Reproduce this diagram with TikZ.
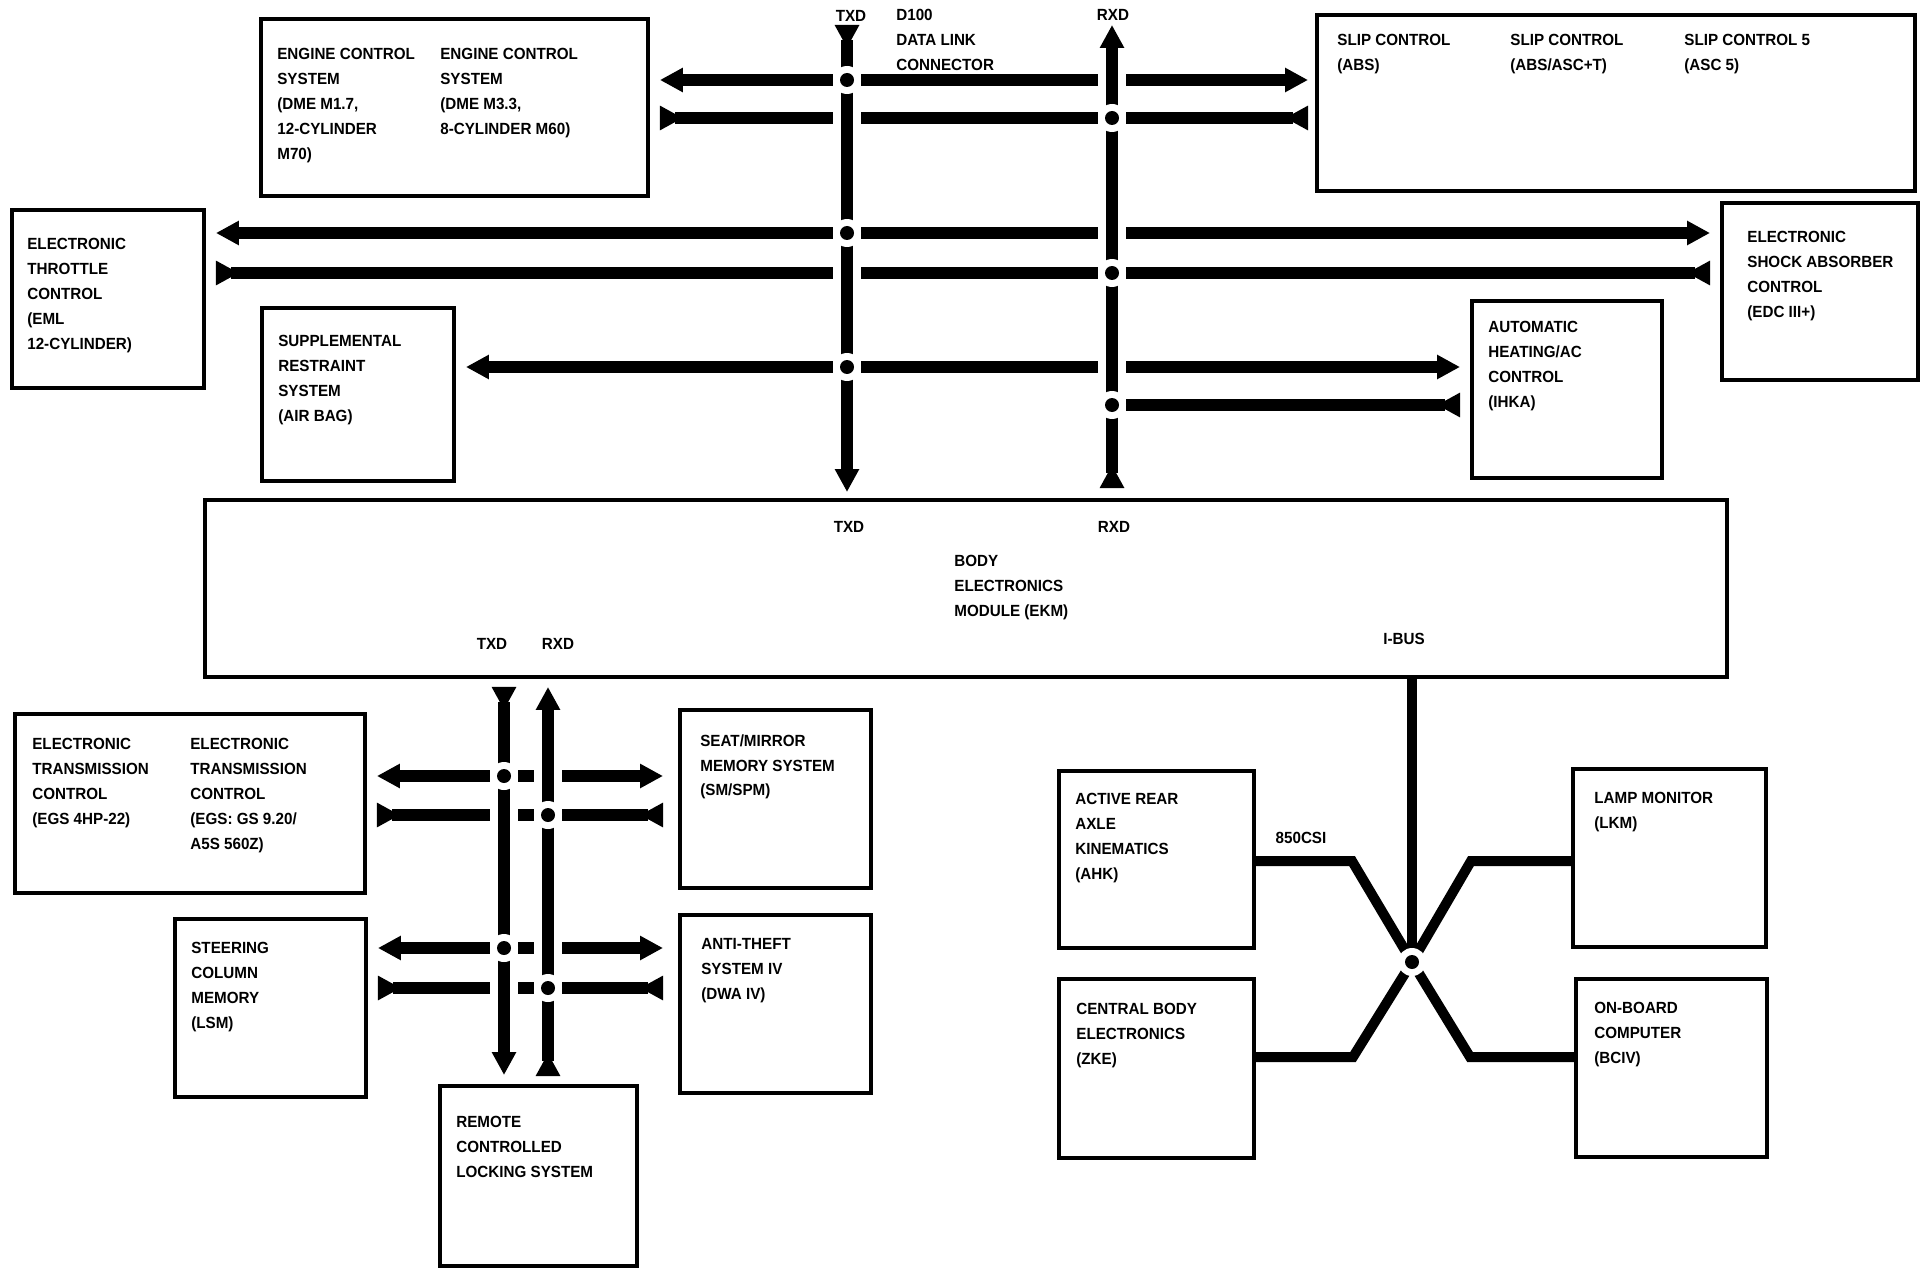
\documentclass[tikz,border=0pt]{standalone}
\usepackage{fontspec}
\newfontfamily\diagfont[FakeStretch=0.94]{Liberation Sans}
\usetikzlibrary{arrows.meta,calc}

\tikzset{
  modbox/.style={draw, rectangle, line width=0.08cm, anchor=north west, inner sep=0pt},
  lbl/.style={font=\diagfont\bfseries\fontsize{9.2}{14.2}\selectfont, inner sep=0pt, align=left, anchor=north west},
  tag/.style={font=\diagfont\bfseries\fontsize{9.2}{14.2}\selectfont, inner sep=0pt},
  bus/.style={line width=0.24cm},
  tx/.style={bus, -{Triangle[length=0.46cm,width=0.46cm]}, shorten >=0.2cm},
  rx/.style={bus, {Triangle[reversed,length=0.46cm,width=0.46cm]}-, shorten <=0.2cm},
  trunk/.style={bus, {Triangle[reversed,length=0.46cm,width=0.46cm]}-{Triangle[length=0.46cm,width=0.46cm]},
    preaction={draw=white, line width=0.56cm}},
  ibus/.style={line width=0.2cm},
}

\begin{document}
\begin{tikzpicture}[x=0.02cm, y=-0.02cm]
    \useasboundingbox (0,0) rectangle (1922,1280);

    % Control units on the diagnosis link
    \node[modbox, minimum width=7.74cm, minimum height=3.54cm] (engine) at (259,17) {};
    \node[modbox, minimum width=11.96cm, minimum height=3.52cm] (slip) at (1315,13) {};
    \node[modbox, minimum width=3.84cm, minimum height=3.56cm] (eml) at (10,208) {};
    \node[modbox, minimum width=3.92cm, minimum height=3.54cm] (edc) at (1720,201) {};
    \node[modbox, minimum width=3.84cm, minimum height=3.46cm] (srs) at (260,306) {};
    \node[modbox, minimum width=3.80cm, minimum height=3.54cm] (ihka) at (1470,299) {};

    % Body electronics module
    \node[modbox, minimum width=30.44cm, minimum height=3.54cm] (ekm) at (203,498) {};

    % Units below the EKM
    \node[modbox, minimum width=7.00cm, minimum height=3.58cm] (egs) at (13,712) {};
    \node[modbox, minimum width=3.82cm, minimum height=3.56cm] (seat) at (678,708) {};
    \node[modbox, minimum width=3.82cm, minimum height=3.56cm] (lsm) at (173,917) {};
    \node[modbox, minimum width=3.82cm, minimum height=3.56cm] (dwa) at (678,913) {};
    \node[modbox, minimum width=3.94cm, minimum height=3.60cm] (remote) at (438,1084) {};

    % I-bus units
    \node[modbox, minimum width=3.90cm, minimum height=3.54cm] (ahk) at (1057,769) {};
    \node[modbox, minimum width=3.90cm, minimum height=3.58cm] (zke) at (1057,977) {};
    \node[modbox, minimum width=3.86cm, minimum height=3.56cm] (lkm) at (1571,767) {};
    \node[modbox, minimum width=3.82cm, minimum height=3.56cm] (bciv) at (1574,977) {};

    % Texts
    \node[lbl] (enginea) at (277,48) {ENGINE CONTROL\\SYSTEM\\(DME M1.7,\\12-CYLINDER\\M70)};
    \node[lbl] (engineb) at (440,48) {ENGINE CONTROL\\SYSTEM\\(DME M3.3,\\8-CYLINDER M60)};
    \node[lbl] (slipa) at (1337,34) {SLIP CONTROL\\(ABS)};
    \node[lbl] (slipb) at (1510,34) {SLIP CONTROL\\(ABS/ASC+T)};
    \node[lbl] (slipc) at (1684,34) {SLIP CONTROL 5\\(ASC 5)};
    \node[lbl] (emltext) at (27,238) {ELECTRONIC\\THROTTLE\\CONTROL\\(EML\\12-CYLINDER)};
    \node[lbl] (edctext) at (1747,231) {ELECTRONIC\\SHOCK ABSORBER\\CONTROL\\(EDC III+)};
    \node[lbl] (srstext) at (278,335) {SUPPLEMENTAL\\RESTRAINT\\SYSTEM\\(AIR BAG)};
    \node[lbl] (ihkatext) at (1488,321) {AUTOMATIC\\HEATING/AC\\CONTROL\\(IHKA)};
    \node[lbl] (dlctext) at (896,9) {D100\\DATA LINK\\CONNECTOR};
    \node[tag] (txdtop) at (851,16) {TXD};
    \node[tag] (rxdtop) at (1113,15) {RXD};
    \node[tag] (ekmtxd) at (849,527) {TXD};
    \node[tag] (ekmrxd) at (1114,527) {RXD};
    \node[lbl] (ekmtext) at (954,555) {BODY\\ELECTRONICS\\MODULE (EKM)};
    \node[tag] (ekmtxdb) at (492,644) {TXD};
    \node[tag] (ekmrxdb) at (558,644) {RXD};
    \node[tag] (ibustext) at (1404,639) {I-BUS};
    \node[lbl] (egsa) at (32,738) {ELECTRONIC\\TRANSMISSION\\CONTROL\\(EGS 4HP-22)};
    \node[lbl] (egsb) at (190,738) {ELECTRONIC\\TRANSMISSION\\CONTROL\\(EGS: GS 9.20/\\A5S 560Z)};
    \node[lbl] (seattext) at (700,734) {SEAT/MIRROR\\MEMORY SYSTEM\\(SM/SPM)};
    \node[lbl] (lsmtext) at (191,942) {STEERING\\COLUMN\\MEMORY\\(LSM)};
    \node[lbl] (dwatext) at (701,938) {ANTI-THEFT\\SYSTEM IV\\(DWA IV)};
    \node[lbl] (remotetext) at (456,1116) {REMOTE\\CONTROLLED\\LOCKING SYSTEM};
    \node[lbl] (ahktext) at (1075,793) {ACTIVE REAR\\AXLE\\KINEMATICS\\(AHK)};
    \node[lbl] (zketext) at (1076,1003) {CENTRAL BODY\\ELECTRONICS\\(ZKE)};
    \node[lbl] (lkmtext) at (1594,792) {LAMP MONITOR\\(LKM)};
    \node[lbl] (bcivtext) at (1594,1002) {ON-BOARD\\COMPUTER\\(BCIV)};
    \node[tag] (csi) at (1301,838) {850CSI};

    % Junctions
    \coordinate (dlctx) at (847,25);
    \coordinate (dlcrx) at (1112,25);
    \coordinate (t1) at (847,80);
    \coordinate (r1) at (1112,118);
    \coordinate (t2) at (847,233);
    \coordinate (r2) at (1112,273);
    \coordinate (t3) at (847,367);
    \coordinate (r3) at (1112,405);
    \coordinate (lt1) at (504,776);
    \coordinate (lr1) at (548,815);
    \coordinate (lt2) at (504,948);
    \coordinate (lr2) at (548,988);
    \coordinate (hub) at (1412,962);

    % Upper link, TXD rows
    \draw[tx] (t1) -- (engine.east |- t1);
    \draw[tx, shorten >=0.14cm] (t1) -- (slip.west |- t1);
    \draw[tx] (t2) -- (eml.east |- t2);
    \draw[tx] (t2) -- (edc.west |- t2);
    \draw[tx] (t3) -- (srs.east |- t3);
    \draw[tx] (t3) -- (ihka.west |- t3);
    % Upper link, RXD rows
    \draw[rx] (engine.east |- r1) -- (r1);
    \draw[rx, shorten <=0.14cm] (slip.west |- r1) -- (r1);
    \draw[rx] (eml.east |- r2) -- (r2);
    \draw[rx] (edc.west |- r2) -- (r2);
    \draw[rx] (ihka.west |- r3) -- (r3);

    % Lower link
    \draw[tx] (lt1) -- (egs.east |- lt1);
    \draw[tx, shorten >=0.3cm] (lt1) -- (seat.west |- lt1);
    \draw[tx] (lt2) -- (lsm.east |- lt2);
    \draw[tx, shorten >=0.3cm] (lt2) -- (dwa.west |- lt2);
    \draw[rx] (egs.east |- lr1) -- (lr1);
    \draw[rx, shorten <=0.3cm] (seat.west |- lr1) -- (lr1);
    \draw[rx] (lsm.east |- lr2) -- (lr2);
    \draw[rx, shorten <=0.3cm] (dwa.west |- lr2) -- (lr2);

    % TXD / RXD trunks
    \draw[trunk, shorten >=0.12cm] (dlctx) -- (dlctx |- ekm.north);
    \draw[trunk, shorten <=0.2cm] (ekm.north -| dlcrx) -- (dlcrx);
    \draw[trunk, shorten <=0.16cm, shorten >=0.18cm] (ekm.south -| lt1) -- (remote.north -| lt1);
    \draw[trunk, shorten <=0.16cm, shorten >=0.16cm] (remote.north -| lr1) -- (ekm.south -| lr1);

    % I-bus
    \draw[ibus] (ekm.south -| hub) -- (hub);
    \draw[ibus] (hub) -- ++(-60,-101) coordinate (ahkbend) -- (ahkbend -| ahk.east);
    \draw[ibus] (hub) -- ++(59,-101) coordinate (lkmbend) -- (lkmbend -| lkm.west);
    \draw[ibus] (hub) -- ++(-59,95) coordinate (zkebend) -- (zkebend -| zke.east);
    \draw[ibus] (hub) -- ++(58,95) coordinate (bcivbend) -- (bcivbend -| bciv.west);

    % Junction dots
    \foreach \j in {t1,r1,t2,r2,t3,r3,lt1,lr1,lt2,lr2,hub} {
        \fill[white] (\j) circle (0.28cm);
        \fill (\j) circle (0.14cm);
    }

\end{tikzpicture}
\end{document}
